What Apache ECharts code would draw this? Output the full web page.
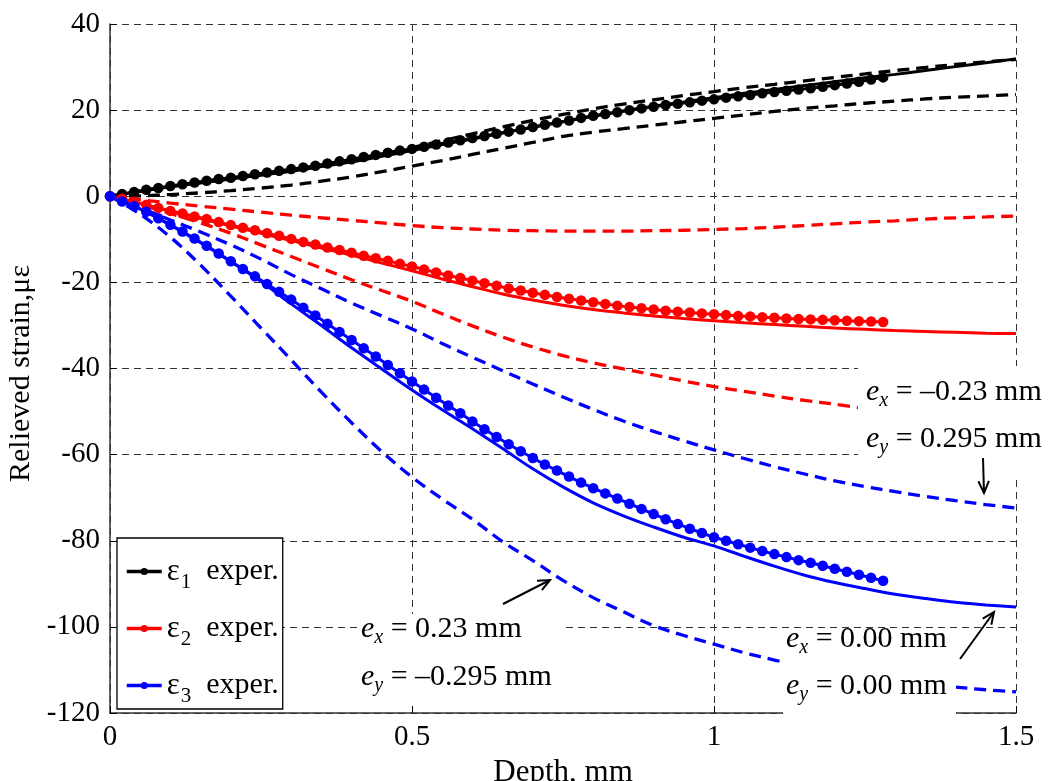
<!DOCTYPE html>
<html><head><meta charset="utf-8">
<script src="https://cdn.jsdelivr.net/npm/echarts@6/dist/echarts.min.js"></script>
<style>html,body{margin:0;padding:0;background:#fff}#c{width:1048px;height:781px}</style>
</head><body><div id="c"></div>
<script>
// ---- data (depth in mm, relieved strain in microstrain) ----
const expDepth = [0,0.02,0.04,0.06,0.08,0.1,0.12,0.14,0.16,0.18,0.2,0.22,0.24,0.26,0.28,0.3,0.32,0.34,0.36,0.38,0.4,0.42,0.44,0.46,0.48,0.5,0.52,0.54,0.56,0.58,0.6,0.62,0.64,0.66,0.68,0.7,0.72,0.74,0.76,0.78,0.8,0.82,0.84,0.86,0.88,0.9,0.92,0.94,0.96,0.98,1.0,1.02,1.04,1.06,1.08,1.1,1.12,1.14,1.16,1.18,1.2,1.22,1.24,1.26,1.28];
const expE1 = [0,0.5,1.0,1.5,1.9,2.4,2.8,3.2,3.6,4.0,4.3,4.7,5.1,5.5,5.9,6.3,6.7,7.1,7.6,8.1,8.6,9.1,9.6,10.1,10.6,11.0,11.5,12.0,12.5,13.0,13.5,14.0,14.5,15.0,15.5,16.1,16.6,17.1,17.6,18.2,18.7,19.1,19.5,20.0,20.4,20.8,21.2,21.5,21.8,22.2,22.5,22.9,23.2,23.5,23.9,24.2,24.5,24.8,25.1,25.4,25.8,26.2,26.6,27.1,27.6];
const expE2 = [0,-0.6,-1.3,-2.0,-2.7,-3.4,-4.0,-4.7,-5.3,-6.0,-6.7,-7.3,-7.9,-8.6,-9.2,-9.9,-10.6,-11.2,-11.9,-12.5,-13.1,-13.8,-14.4,-15.0,-15.7,-16.3,-17.0,-17.7,-18.4,-19.0,-19.6,-20.2,-20.8,-21.4,-21.9,-22.4,-22.9,-23.4,-23.8,-24.2,-24.6,-25.0,-25.4,-25.7,-26.0,-26.3,-26.6,-26.8,-27.0,-27.2,-27.4,-27.6,-27.8,-27.9,-28.1,-28.2,-28.4,-28.5,-28.6,-28.7,-28.8,-28.9,-29.0,-29.1,-29.2];
const expE3 = [0,-1.2,-2.3,-3.6,-5.1,-6.6,-8.2,-9.8,-11.5,-13.3,-15.1,-16.9,-18.6,-20.4,-22.2,-24.0,-25.9,-27.7,-29.6,-31.5,-33.4,-35.3,-37.2,-39.2,-41.1,-43.0,-44.9,-46.8,-48.6,-50.4,-52.3,-54.1,-55.9,-57.6,-59.2,-60.8,-62.3,-63.7,-65.1,-66.5,-67.8,-69.0,-70.2,-71.4,-72.6,-73.8,-75.0,-76.1,-77.2,-78.2,-79.2,-80.0,-80.8,-81.6,-82.4,-83.1,-83.8,-84.5,-85.1,-85.8,-86.5,-87.2,-87.9,-88.6,-89.3];

const calcDepth = [0,0.05,0.1,0.15,0.2,0.25,0.3,0.35,0.4,0.45,0.5,0.55,0.6,0.65,0.7,0.75,0.8,0.85,0.9,0.95,1.0,1.05,1.1,1.15,1.2,1.25,1.3,1.35,1.4,1.45,1.5];
// e_x = e_y = 0 (solid)
const calcE1 = [0,1.1,2.2,3.1,4.0,4.9,5.8,6.9,8.0,9.3,10.6,12.0,13.3,14.7,16.0,17.3,18.6,19.8,20.9,21.9,22.9,23.9,24.8,25.7,26.6,27.5,28.3,29.2,30.1,31.0,31.9];
const calcE2 = [0,-1.7,-3.5,-5.2,-6.9,-8.6,-10.3,-12.0,-13.7,-15.5,-17.3,-19.2,-21.0,-22.7,-24.1,-25.3,-26.3,-27.1,-27.8,-28.4,-28.9,-29.4,-29.8,-30.2,-30.6,-30.9,-31.2,-31.4,-31.6,-31.8,-31.9];
const calcE3 = [0,-3.0,-6.7,-10.8,-15.2,-19.8,-25.0,-30.0,-35.2,-40.1,-45.0,-49.6,-54.0,-58.6,-63.3,-67.5,-71.2,-74.2,-76.8,-79.2,-81.2,-83.6,-85.9,-88.0,-89.7,-91.1,-92.4,-93.4,-94.3,-94.9,-95.4];
// eccentric hole cases (dashed)
const calcE1a = [0,1.2,2.3,3.2,4.1,5.0,6.0,7.1,8.4,9.8,11.3,12.9,14.5,16.1,17.6,19.0,20.3,21.4,22.4,23.4,24.3,25.2,26.0,26.8,27.6,28.4,29.2,29.9,30.6,31.2,31.8];
const calcE1b = [0,0.1,0.4,0.8,1.3,1.9,2.6,3.5,4.5,5.7,7.0,8.3,9.7,11.1,12.5,13.9,14.9,15.7,16.5,17.3,18.1,18.9,19.7,20.4,21.0,21.6,22.1,22.6,23.0,23.3,23.6];
const calcE2a = [0,-0.8,-1.6,-2.3,-3.0,-3.7,-4.4,-5.0,-5.6,-6.2,-6.8,-7.3,-7.6,-7.9,-8.0,-8.1,-8.1,-8.1,-8.0,-7.9,-7.7,-7.5,-7.2,-6.8,-6.4,-6.0,-5.7,-5.3,-5.0,-4.8,-4.6];
const calcE2b = [0,-1.9,-4.0,-6.2,-8.6,-11.3,-14.0,-16.7,-19.4,-21.9,-24.4,-27.3,-30.1,-32.7,-35.0,-37.0,-38.7,-40.1,-41.5,-42.9,-44.2,-45.3,-46.4,-47.4,-48.3,-49.3,null,null,null,null,null];
const calcE3a = [0,-2.7,-5.5,-8.3,-11.3,-14.6,-18.2,-21.5,-24.8,-27.8,-30.8,-34.2,-37.4,-40.5,-43.6,-46.6,-49.5,-52.2,-54.6,-56.8,-58.9,-60.9,-62.8,-64.5,-66.1,-67.4,-68.6,-69.7,-70.7,-71.6,-72.4];
const calcE3b = [0,-4.2,-9.5,-16.0,-23.2,-30.6,-38.0,-45.5,-52.6,-59.3,-65.2,-70.3,-75.0,-80.2,-84.6,-89.2,-93.2,-96.5,-99.7,-102.0,-104.0,-106.0,-107.7,-109.3,-110.6,-111.7,-112.6,-113.4,-114.0,-114.6,-115.1];

const xTicks = [0, 0.5, 1, 1.5];
const yTicks = [-120, -100, -80, -60, -40, -20, 0, 20, 40];
const legendNames = ['ε1 exper.', 'ε2 exper.', 'ε3 exper.'];
const annotations = [
  {sub:'x', rest:' = \u20130.23 mm'}, {sub:'y', rest:' = 0.295 mm'},
  {sub:'x', rest:' = 0.23 mm'}, {sub:'y', rest:' = \u20130.295 mm'},
  {sub:'x', rest:' = 0.00 mm'}, {sub:'y', rest:' = 0.00 mm'}
];

// ---- chart ----
const FONT = '"Liberation Serif", "Times New Roman", serif';
const BLACK = '#000000', RED = '#ff0000', BLUE = '#0000ff';
function pairs(xs, ys) { return xs.map((x, i) => [x, ys[i]]); }
function calcSeries(name, ys, color, dashed) {
  return { name, type: 'line', data: pairs(calcDepth, ys), symbol: 'none', smooth: 0.35,
    lineStyle: { color, width: dashed ? 3.3 : 3, type: dashed ? [12, 7] : 'solid' },
    itemStyle: { color }, z: 2, silent: true, animation: false };
}
function expSeries(name, ys, color) {
  return { name, type: 'line', data: pairs(expDepth, ys), symbol: 'circle', symbolSize: 10.5,
    showSymbol: true, itemStyle: { color }, lineStyle: { color, width: 3 }, z: 3, animation: false };
}

const chart = echarts.init(document.getElementById('c'));
const option = {
  animation: false,
  backgroundColor: '#fff',
  textStyle: { fontFamily: FONT },
  grid: { left: 110, right: 32, top: 24, bottom: 68, containLabel: false, outerBoundsMode: 'none' },
  xAxis: {
    type: 'value', min: xTicks[0], max: xTicks[xTicks.length - 1], interval: 0.5,
    name: 'Depth, mm', nameLocation: 'middle', nameGap: 40,
    nameTextStyle: { fontSize: 31, color: '#000', fontFamily: FONT },
    axisLine: { show: true, onZero: false, lineStyle: { color: '#333', width: 1.5 } },
    axisTick: { show: true, inside: true, length: 7, lineStyle: { color: '#000', width: 1 } },
    axisLabel: { fontSize: 29, color: '#000', margin: 10, fontFamily: FONT, showMinLabel: true, showMaxLabel: true },
    splitLine: { show: true, lineStyle: { type: [7, 5], color: '#333', width: 1 } }
  },
  yAxis: {
    type: 'value', min: yTicks[0], max: yTicks[yTicks.length - 1], interval: 20,
    name: 'Relieved strain,\u03bc\u03b5', nameLocation: 'middle', nameGap: 72,
    nameTextStyle: { fontSize: 30, color: '#000', fontFamily: FONT, padding: [0, 10, 0, 0] },
    axisLine: { show: true, lineStyle: { color: '#333', width: 1.5 } },
    axisTick: { show: true, inside: true, length: 7, lineStyle: { color: '#000', width: 1 } },
    axisLabel: { fontSize: 29, color: '#000', margin: 10, fontFamily: FONT },
    splitLine: { show: true, lineStyle: { type: [7, 5], color: '#333', width: 1 } }
  },
  legend: {
    data: legendNames, orient: 'vertical', left: 117, top: 538,
    padding: [18, 4, 2, 8], itemGap: 20, itemWidth: 35, itemHeight: 9,
    backgroundColor: '#fff', borderColor: '#000', borderWidth: 1.3, borderRadius: 0,
    selectedMode: false,
    lineStyle: { width: 3.5 },
    formatter: function (n) { return '{g|\u03b5}{s|' + n.charAt(1) + '}{t|  exper.}'; },
    textStyle: {
      color: '#000', fontFamily: FONT,
      rich: {
        g: { fontSize: 31, fontFamily: FONT, color: '#000' },
        s: { fontSize: 21, fontFamily: FONT, color: '#000', padding: [22, 0, 0, 1] },
        t: { fontSize: 30, fontFamily: FONT, color: '#000' }
      }
    }
  },
  series: [
    calcSeries('ε1 calc. e=0', calcE1, BLACK, false),
    calcSeries('ε1 calc. case 1', calcE1a, BLACK, true),
    calcSeries('ε1 calc. case 2', calcE1b, BLACK, true),
    calcSeries('ε2 calc. e=0', calcE2, RED, false),
    calcSeries('ε2 calc. case 1', calcE2a, RED, true),
    calcSeries('ε2 calc. case 2', calcE2b, RED, true),
    calcSeries('ε3 calc. e=0', calcE3, BLUE, false),
    calcSeries('ε3 calc. case 1', calcE3a, BLUE, true),
    calcSeries('ε3 calc. case 2', calcE3b, BLUE, true),
    expSeries(legendNames[0], expE1, BLACK),
    expSeries(legendNames[1], expE2, RED),
    expSeries(legendNames[2], expE3, BLUE)
  ]
};
chart.setOption(option);

// ---- annotations (white text boxes + arrows) ----
const richAnno = {
  e: { fontSize: 30, fontStyle: 'italic', fontFamily: FONT, color: '#000' },
  s: { fontSize: 20, fontStyle: 'italic', fontFamily: FONT, color: '#000', padding: [18, 0, 0, 0] },
  n: { fontSize: 30, fontFamily: FONT, color: '#000' }
};
function annoText(a, x, y) {
  return { type: 'text', x: x, y: y, z: 102, silent: true,
    style: { text: '{e|e}{s|' + a.sub + '}{n|' + a.rest + '}', rich: richAnno, verticalAlign: 'middle', align: 'left' } };
}
function cover(x, y, w, h) {
  return { type: 'rect', z: 101, silent: true, shape: { x, y, width: w, height: h }, style: { fill: '#fff' } };
}
function arrow(x1, y1, x2, y2) {
  const ang = Math.atan2(y2 - y1, x2 - x1), L = 13, spread = 0.42;
  const h1 = [x2 - L * Math.cos(ang - spread), y2 - L * Math.sin(ang - spread)];
  const h2 = [x2 - L * Math.cos(ang + spread), y2 - L * Math.sin(ang + spread)];
  return [
    { type: 'line', z: 103, silent: true, shape: { x1, y1, x2, y2 }, style: { stroke: '#000', lineWidth: 2 } },
    { type: 'polyline', z: 103, silent: true, shape: { points: [h1, [x2, y2], h2] }, style: { stroke: '#000', lineWidth: 2, fill: null } }
  ];
}
const g = [
  cover(858, 366, 190, 109), cover(358, 614, 205, 91), cover(783, 630, 173, 87),
  annoText(annotations[0], 866, 392), annoText(annotations[1], 866, 439),
  annoText(annotations[2], 361, 629), annoText(annotations[3], 361, 677),
  annoText(annotations[4], 786, 639), annoText(annotations[5], 786, 686)
].concat(arrow(983, 458, 984, 493), arrow(503, 604, 550, 580), arrow(960, 659, 994, 612));
chart.setOption({ graphic: g });
</script>
</body></html>
